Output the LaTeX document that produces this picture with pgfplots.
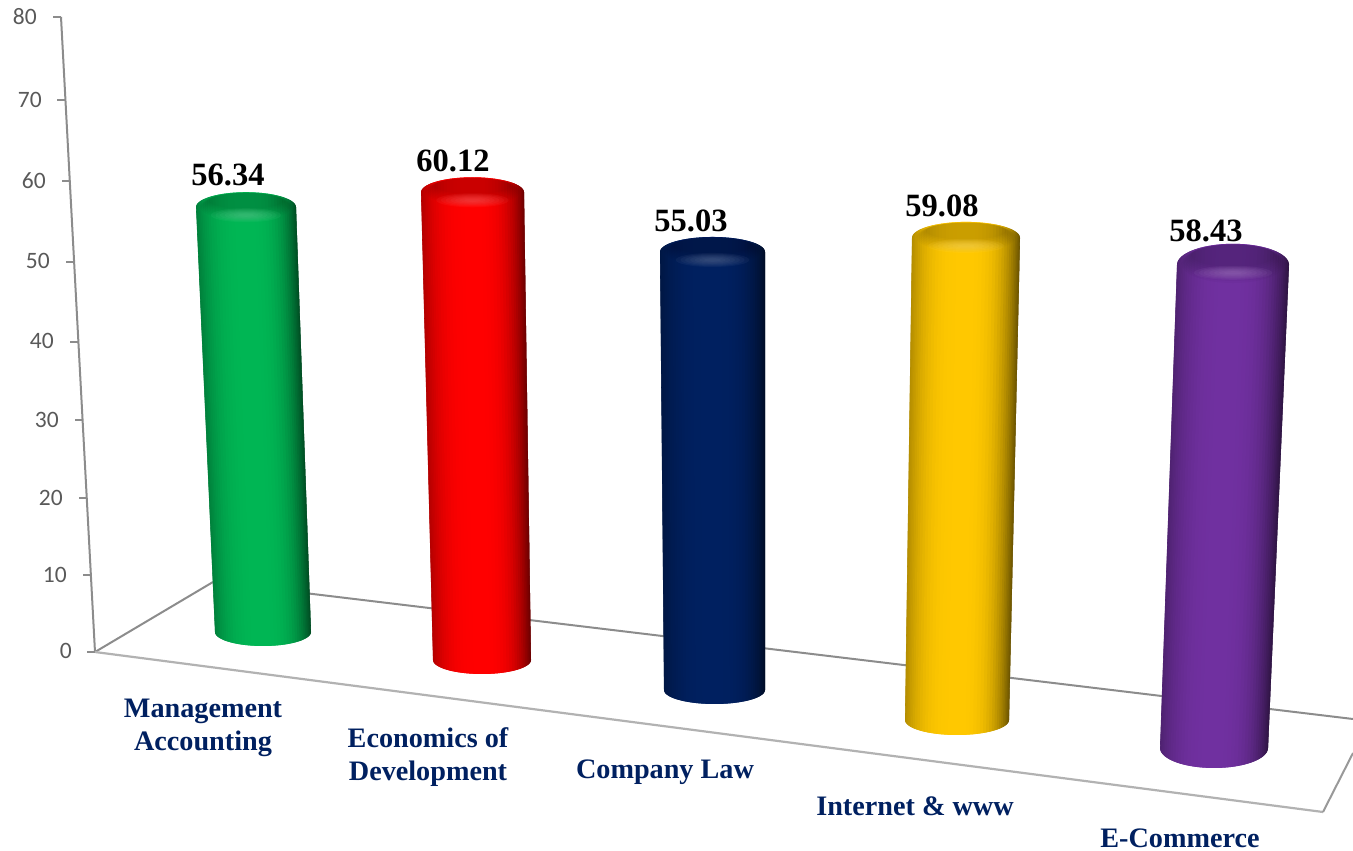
\documentclass[border=0pt]{standalone}
\usepackage{pgfplots}
\pgfplotsset{compat=1.18}
\usepackage{fontspec}
\setmainfont{Liberation Serif}
\newfontfamily\tickfont{Carlito}
\definecolor{cgreen}{HTML}{00B654}
\definecolor{cred}{HTML}{FF0000}
\definecolor{cblue}{HTML}{002060}
\definecolor{cyellow}{HTML}{FFC800}
\definecolor{cpurple}{HTML}{7030A0}
\definecolor{labblue}{HTML}{002060}
\definecolor{tickgray}{HTML}{595959}
\definecolor{wallgray}{HTML}{8C8C8C}
% #1 colour, #2 opacity, #3 cx, #4 cy, #5 rx, #6 ry
\newcommand\capell[6]{%
  \edef\tmpell{\noexpand\fill[#1,fill opacity=#2] (axis cs:#3,#4) ellipse [x radius=#5pt, y radius=#6pt];}\tmpell}
% #1 colour, #2 value, #3 xbl, #4 xbr, #5 ybase, #6 depth, #7 xtl, #8 xtr, #9 pixels per unit
\newcommand\cyl[9]{%
  \pgfmathsetmacro\ytop{#5-#2*#9}%
  \pgfmathsetmacro\ry{#6+1}%
  \pgfplotsforeachungrouped \a in {0,4,...,176}{%
    \pgfmathsetmacro\nxt{min(\a+8,180)}%
    \pgfmathsetmacro\uone{-cos(\a)}%
    \pgfmathsetmacro\utwo{-cos(\nxt)}%
    \pgfmathsetmacro\um{-cos(\a+2)}%
    \pgfmathsetmacro\tone{(\uone+1)/2}%
    \pgfmathsetmacro\ttwo{(\utwo+1)/2}%
    \pgfmathsetmacro\xba{#3+\tone*(#4-#3)}%
    \pgfmathsetmacro\xbb{#3+\ttwo*(#4-#3)}%
    \pgfmathsetmacro\xta{#7+\tone*(#8-#7)}%
    \pgfmathsetmacro\xtb{#7+\ttwo*(#8-#7)}%
    \pgfmathsetmacro\yba{#5+#6*sin(\a)}%
    \pgfmathsetmacro\ybb{#5+#6*sin(\nxt)}%
    \pgfmathsetmacro\yta{\ytop-\ry*sin(\a)}%
    \pgfmathsetmacro\ytb{\ytop-\ry*sin(\nxt)}%
    \pgfmathsetmacro\pc{\um<0 ? 100-30*abs(\um)^3 : 100-58*abs(\um)^3}%
    \edef\tmpstrip{\noexpand\addplot[fill=#1!\pc!black,draw=none] coordinates {(\xta,\yta)(\xtb,\ytb)(\xbb,\ybb)(\xba,\yba)} --cycle;}\tmpstrip
  }%
  \pgfmathsetmacro\cx{(#7+#8)/2}%
  \pgfmathsetmacro\rx{(#8-#7)/2}%
  % dark top face fading outwards
  \pgfplotsforeachungrouped \k in {0,1,...,8}{%
    \pgfmathsetmacro\dx{\rx*(0.92-0.022*\k)}%
    \pgfmathsetmacro\dy{\ry*(0.92-0.048*\k)}%
    \pgfmathsetmacro\dc{\ytop-\ry+\dy+0.6}%
    \capell{black}{0.024}{\cx}{\dc}{\dx}{\dy}%
  }%
  % highlight on the front lip
  \pgfplotsforeachungrouped \k in {0,1,...,6}{%
    \pgfmathsetmacro\hx{\rx*(0.70-0.09*\k)}%
    \pgfmathsetmacro\hy{7-0.9*\k}%
    \pgfmathsetmacro\hc{\ytop+8}%
    \capell{#1!60!white}{0.09}{\cx}{\hc}{\hx}{\hy}%
  }%
}
\begin{document}
\begin{tikzpicture}
\begin{axis}[
  scale only axis, width=1353pt, height=851pt,
  xmin=0, xmax=1353, ymin=0, ymax=851, y dir=reverse,
  hide axis,
  every axis plot/.append style={mark=none},
]
% invisible corners keep the picture at the reference's size
\path (axis cs:0,0) -- (axis cs:1353,851);
% floor and back wall edge
\addplot[wallgray,line width=2pt] coordinates {(61,17)(95,652)};
\addplot[wallgray,line width=2pt] coordinates {(95,652)(213,582)};
\addplot[wallgray,line width=2pt] coordinates {(213,582)(1353,719)};
\addplot[gray!60,line width=2.2pt] coordinates {(95,652)(1323,812)};
\addplot[gray!80,line width=2pt] coordinates {(1323,812)(1353,753)};
% ticks on the value axis
\addplot[wallgray,line width=1.2pt] coordinates {(53,17)(61,17)};
\addplot[wallgray,line width=1.2pt] coordinates {(57,100)(65,100)};
\addplot[wallgray,line width=1.2pt] coordinates {(62,181)(70,181)};
\addplot[wallgray,line width=1.2pt] coordinates {(66,262)(74,262)};
\addplot[wallgray,line width=1.2pt] coordinates {(70,342)(78,342)};
\addplot[wallgray,line width=1.2pt] coordinates {(75,420)(83,420)};
\addplot[wallgray,line width=1.2pt] coordinates {(79,498)(87,498)};
\addplot[wallgray,line width=1.2pt] coordinates {(83,575)(91,575)};
\addplot[wallgray,line width=1.2pt] coordinates {(87,652)(95,652)};
% cylinders
\cyl{cgreen}{56.34}{215}{311}{632}{14}{196}{296}{7.54}
\cyl{cred}{60.12}{433}{531}{660}{14}{421}{524}{7.78}
\cyl{cblue}{55.03}{664}{765}{690}{14}{660}{765}{7.96}
\cyl{cyellow}{59.08}{905}{1009}{720}{15}{912}{1020}{8.16}
\cyl{cpurple}{58.43}{1160}{1268}{748}{20}{1177}{1289}{8.27}
% value labels
\node[font=\fontsize{32.5}{32}\selectfont\bfseries] at (axis cs:228,175) {56.34};
\node[font=\fontsize{32.5}{32}\selectfont\bfseries] at (axis cs:453,161) {60.12};
\node[font=\fontsize{32.5}{32}\selectfont\bfseries] at (axis cs:691,221) {55.03};
\node[font=\fontsize{32.5}{32}\selectfont\bfseries] at (axis cs:942,206) {59.08};
\node[font=\fontsize{32.5}{32}\selectfont\bfseries] at (axis cs:1206,231) {58.43};
% category labels
\node[font=\fontsize{28.2}{33}\selectfont\bfseries,text=labblue,align=center] at (axis cs:203,728) {Management\\Accounting};
\node[font=\fontsize{28.2}{33}\selectfont\bfseries,text=labblue,align=center] at (axis cs:428,757) {Economics of\\Development};
\node[font=\fontsize{28.2}{33}\selectfont\bfseries,text=labblue] at (axis cs:665,772) {Company Law};
\node[font=\fontsize{28.2}{33}\selectfont\bfseries,text=labblue] at (axis cs:915,806) {Internet \& www};
\node[font=\fontsize{28.2}{33}\selectfont\bfseries,text=labblue,inner sep=0pt] at (axis cs:1180,838) {E-Commerce};
% value axis labels
\node[anchor=east,inner sep=0pt,text=tickgray,font=\fontsize{23.5}{23}\selectfont\tickfont] at (axis cs:37,17) {80};
\node[anchor=east,inner sep=0pt,text=tickgray,font=\fontsize{23.5}{23}\selectfont\tickfont] at (axis cs:42,100) {70};
\node[anchor=east,inner sep=0pt,text=tickgray,font=\fontsize{23.5}{23}\selectfont\tickfont] at (axis cs:46,181) {60};
\node[anchor=east,inner sep=0pt,text=tickgray,font=\fontsize{23.5}{23}\selectfont\tickfont] at (axis cs:50,261) {50};
\node[anchor=east,inner sep=0pt,text=tickgray,font=\fontsize{23.5}{23}\selectfont\tickfont] at (axis cs:54,341) {40};
\node[anchor=east,inner sep=0pt,text=tickgray,font=\fontsize{23.5}{23}\selectfont\tickfont] at (axis cs:59,420) {30};
\node[anchor=east,inner sep=0pt,text=tickgray,font=\fontsize{23.5}{23}\selectfont\tickfont] at (axis cs:63,498) {20};
\node[anchor=east,inner sep=0pt,text=tickgray,font=\fontsize{23.5}{23}\selectfont\tickfont] at (axis cs:67,575) {10};
\node[anchor=east,inner sep=0pt,text=tickgray,font=\fontsize{23.5}{23}\selectfont\tickfont] at (axis cs:72,651) {0};
\end{axis}
\end{tikzpicture}
\end{document}
